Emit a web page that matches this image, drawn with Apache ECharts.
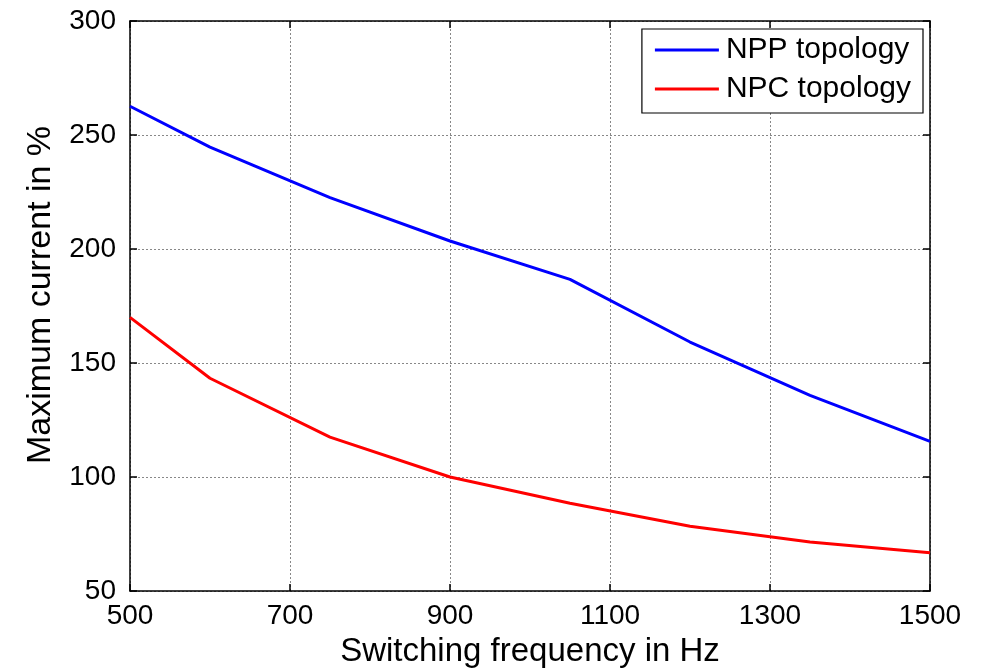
<!DOCTYPE html>
<html><head><meta charset="utf-8">
<script src="https://cdn.jsdelivr.net/npm/echarts@6/dist/echarts.min.js"></script>
<style>html,body{margin:0;padding:0;background:#fff}#c{width:981px;height:668px}</style>
</head><body><div id="c"></div>
<script>
const freq = [500, 600, 750, 900, 1050, 1200, 1350, 1500];
const npp = [262.6, 244.7, 222.5, 203.5, 186.7, 159.2, 135.8, 115.6];
const npc = [170.0, 143.3, 117.5, 100.0, 88.5, 78.4, 71.5, 66.8];
const xTicks = [500, 700, 900, 1100, 1300, 1500];
const yTicks = [50, 100, 150, 200, 250, 300];

const FONT = '"Liberation Sans", Arial, sans-serif';
const chart = echarts.init(document.getElementById('c'));
const pair = a => freq.map((f, i) => [f, a[i]]);
const grid = {left: 130, right: 51, top: 21, bottom: 77, containLabel: false, outerBoundsMode: 'none'};
const tick = {show: true, inside: true, length: 7, lineStyle: {color: '#000', width: 1.5}};
const split = {show: true, lineStyle: {color: '#888', type: [2, 2], width: 1}};
chart.setOption({
  animation: false,
  grid: grid,
  legend: {
    right: 58, top: 29, orient: 'vertical',
    backgroundColor: '#fff', borderColor: '#000', borderWidth: 1.2,
    padding: [6, 12, 9, 13], itemGap: 9,
    itemWidth: 64, itemHeight: 3, icon: 'rect',
    textStyle: {fontFamily: FONT, fontSize: 30, color: '#000', padding: [0, 0, 0, 2]},
    data: ['NPP topology', 'NPC topology']
  },
  xAxis: [{
    type: 'value', min: 500, max: 1500, interval: 200,
    name: 'Switching frequency in Hz', nameLocation: 'middle', nameGap: 44,
    nameTextStyle: {fontFamily: FONT, fontSize: 33, color: '#000'},
    axisLine: {show: true, lineStyle: {color: '#000', width: 1.5}},
    axisTick: tick, splitLine: split,
    axisLabel: {fontFamily: FONT, fontSize: 28, color: '#000', margin: 11,
      formatter: v => xTicks.includes(v) ? String(v) : ''}
  }, {
    type: 'value', position: 'top', min: 500, max: 1500, interval: 200,
    axisLine: {show: true, lineStyle: {color: '#000', width: 1.5}},
    axisTick: tick, splitLine: {show: false}, axisLabel: {show: false}
  }],
  yAxis: [{
    type: 'value', min: 50, max: 300, interval: 50,
    name: 'Maximum current in %', nameLocation: 'middle', nameGap: 72,
    nameTextStyle: {fontFamily: FONT, fontSize: 34, color: '#000', padding: [0, 0, 0, 22]},
    axisLine: {show: true, lineStyle: {color: '#000', width: 1.5}},
    axisTick: tick, splitLine: split,
    axisLabel: {fontFamily: FONT, fontSize: 28, color: '#000', margin: 14,
      formatter: v => yTicks.includes(v) ? String(v) : ''}
  }, {
    type: 'value', position: 'right', min: 50, max: 300, interval: 50,
    axisLine: {show: true, lineStyle: {color: '#000', width: 1.5}},
    axisTick: tick, splitLine: {show: false}, axisLabel: {show: false}
  }],
  series: [
    {name: 'NPP topology', type: 'line', data: pair(npp), showSymbol: false,
     lineStyle: {color: '#0000ff', width: 3}, itemStyle: {color: '#0000ff'}},
    {name: 'NPC topology', type: 'line', data: pair(npc), showSymbol: false,
     lineStyle: {color: '#ff0000', width: 3}, itemStyle: {color: '#ff0000'}}
  ]
});
</script></body></html>
